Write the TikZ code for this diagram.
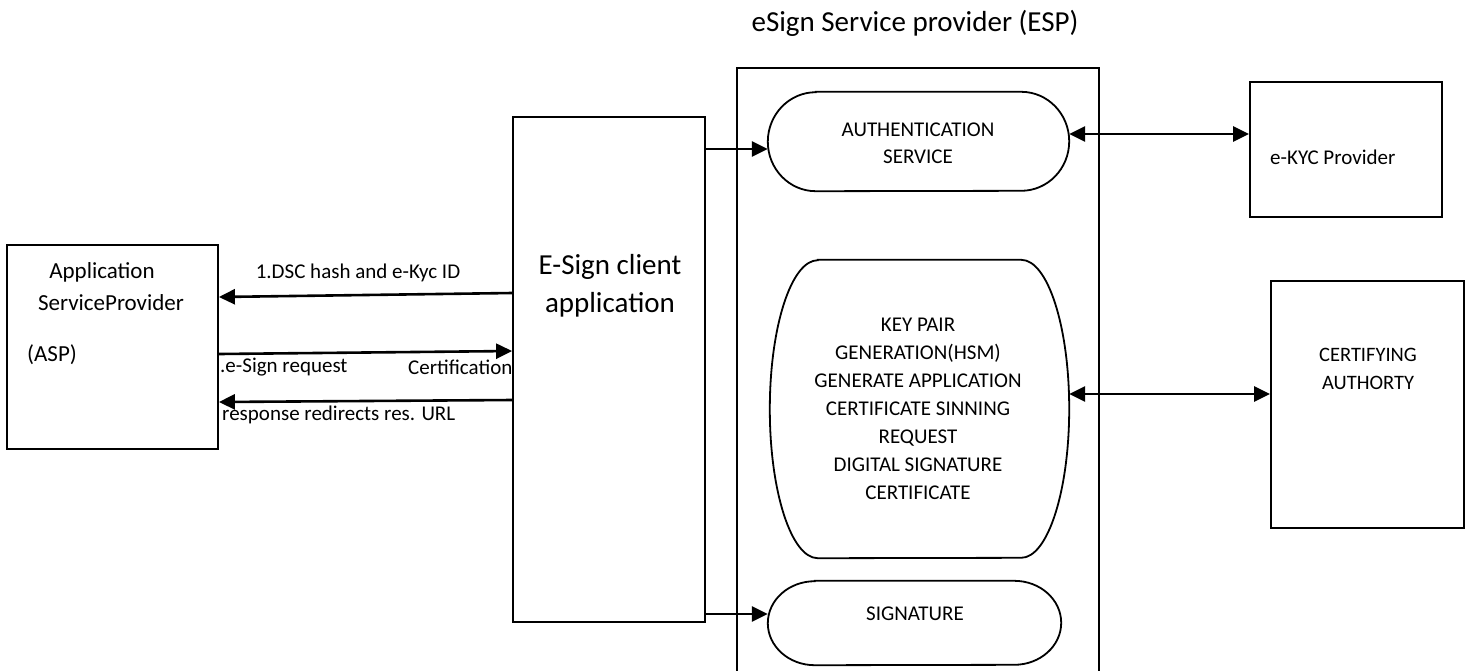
\documentclass[tikz,border=0pt]{standalone}
\usepackage{fontspec}
\setmainfont{Carlito}
\usetikzlibrary{arrows.meta}
\tikzset{
  box/.style={draw, line width=1.8pt, rectangle, inner sep=0pt, anchor=center},
  term/.style={draw=none, rectangle, inner sep=0pt, anchor=center},
  txt/.style={inner sep=0pt, align=center},
  lbl/.style={inner sep=0pt, font=\fontsize{21}{26}\selectfont},
  arr/.style={line width=2.6pt, -{Triangle[length=16pt,width=15pt]}},
  darr/.style={line width=2.6pt, {Triangle[length=16pt,width=15pt]}-{Triangle[length=16pt,width=15pt]}},
}
\newcommand{\terminator}[3]{% node name, rx, ry
  \draw[line width=1.8pt] ([xshift=#2]#1.north west) -- ([xshift=-#2]#1.north east)
    arc[start angle=90, end angle=-90, x radius=#2, y radius=#3]
    -- ([xshift=#2]#1.south west)
    arc[start angle=270, end angle=90, x radius=#2, y radius=#3] -- cycle;}
\begin{document}
\begin{tikzpicture}[x=1pt,y=-1pt]
\useasboundingbox (0,0) rectangle (1466,670);

% title
\node[txt, font=\fontsize{29}{35}\selectfont] (title) at (915,23) {eSign Service provider (ESP)};

% ESP container
\node[box, line width=2pt, minimum width=362pt, minimum height=608pt] (esp) at (918,372) {};

% Application Service Provider
\node[box, fill=white, minimum width=211pt, minimum height=204pt] (asp) at (112.5,347) {};
\node[txt, font=\fontsize{23}{28}\selectfont] (asp1) at (102,272) {Application};
\node[txt, font=\fontsize{23}{28}\selectfont] (asp2) at (111,303) {ServiceProvider};
\node[txt, font=\fontsize{23}{28}\selectfont, anchor=west] (asp3) at (27,355) {(ASP)};

% labels between ASP and client
\node[lbl] (l1) at (358,273) {1.DSC hash and e-Kyc ID};
\node[lbl, anchor=west] (l2) at (220,367) {.e-Sign request};
\node[lbl, anchor=west] (l3) at (408,367) {Certification};
\node[lbl, anchor=west] (l4) at (222,415) {response redirects res. URL};

% E-Sign client application
\node[box, fill=white, minimum width=192pt, minimum height=505pt] (client) at (609,369.5) {};
\node[txt, font=\fontsize{29}{38}\selectfont] (clienttxt) at (610,286) {E-Sign client\\application};

% terminators inside ESP
\node[term, minimum width=301pt, minimum height=99pt] (auth) at (918.5,141.5) {};
\terminator{auth}{48pt}{49.5pt}
\node[txt, font=\fontsize{21}{27}\selectfont] (authtxt) at (918,143) {AUTHENTICATION\\SERVICE};

\node[term, minimum width=299pt, minimum height=298pt] (keypair) at (919.5,409) {};
\terminator{keypair}{48pt}{149pt}
\node[txt, font=\fontsize{21}{28}\selectfont] (keytxt) at (918,409) {KEY PAIR\\GENERATION(HSM)\\GENERATE APPLICATION\\CERTIFICATE SINNING\\REQUEST\\DIGITAL SIGNATURE\\CERTIFICATE};

\node[term, minimum width=293pt, minimum height=84pt] (sig) at (914.5,623) {};
\terminator{sig}{47pt}{42pt}
\node[txt, font=\fontsize{21}{26}\selectfont] (sigtxt) at (915,614) {SIGNATURE};

% external boxes
\node[box, minimum width=192pt, minimum height=135pt] (ekyc) at (1346,149.5) {};
\node[txt, font=\fontsize{21}{26}\selectfont, anchor=west] (ekyctxt) at (1270,157) {e-KYC Provider};

\node[box, minimum width=193pt, minimum height=247pt] (ca) at (1367.5,404.5) {};
\node[txt, font=\fontsize{20.5}{28}\selectfont] (catxt) at (1368,369) {CERTIFYING\\AUTHORTY};

% connectors
\draw[arr] (client.west |- 0,293) -- (asp.east |- 0,297);
\draw[arr] (asp.east |- 0,354) -- (client.west |- 0,351);
\draw[arr] (client.west |- 0,400) -- (asp.east |- 0,402);
\draw[arr] (client.east |- 0,149) -- (auth.west |- 0,149);
\draw[arr] (client.east |- 0,614) -- (sig.west |- 0,614);
\draw[darr] (auth.east |- 0,134) -- (ekyc.west |- 0,134);
\draw[darr] (keypair.east |- 0,394) -- (ca.west |- 0,394);
\end{tikzpicture}
\end{document}
